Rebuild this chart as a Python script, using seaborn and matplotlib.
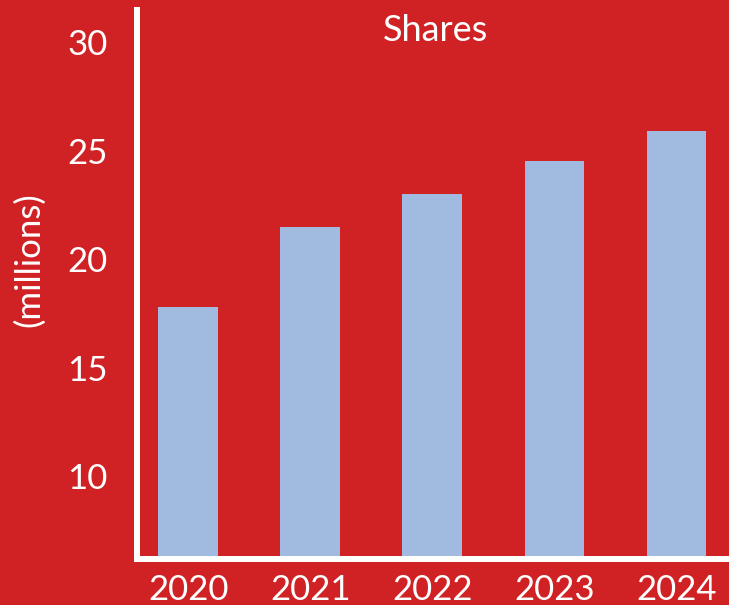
import matplotlib
matplotlib.use("Agg")
import matplotlib.pyplot as plt
import seaborn as sns
import pandas as pd

years = ["2020", "2021", "2022", "2023", "2024"]
shares = [17.8, 21.5, 23.0, 24.5, 25.9]
yticks = [10, 15, 20, 25, 30]

RED = "#D02224"
BLUE = "#A0BBDF"

sns.set_theme(style="white")
plt.rcParams['font.family'] = ['Lato', 'DejaVu Sans']

df = pd.DataFrame({"year": years, "shares": shares})

fig = plt.figure(figsize=(7.29, 6.05), dpi=100, facecolor=RED)
ax = fig.add_axes([137/729, 46/605, 1 - 137/729, (559 - 10)/605])
ax.set_facecolor(RED)

sns.barplot(data=df, x="year", y="shares", color=BLUE, width=0.49,
            saturation=1, linewidth=0, edgecolor=BLUE, ax=ax)

ax.set_xlim(-0.42, 4.43)
ax.set_ylim(6.18, 31.48)
ax.set_yticks(yticks)
ax.set_yticklabels([str(t) for t in yticks])

for s in ["top", "right"]:
    ax.spines[s].set_visible(False)
for s in ["left", "bottom"]:
    ax.spines[s].set_color("white")
    ax.spines[s].set_linewidth(4.3)

ax.tick_params(axis="both", length=0, colors="white", labelsize=25)
ax.tick_params(axis="y", pad=21)
ax.tick_params(axis="x", pad=11)

ax.set_xlabel("")
ax.set_ylabel("(millions)", color="white", fontsize=25)
ax.yaxis.set_label_coords((45 - 137) / 592, 0.546)

ax.text(0.505, 0.963, "Shares", transform=ax.transAxes, ha="center",
        va="center", color="white", fontsize=26)

fig.savefig("out.png", dpi=100, facecolor=RED)
